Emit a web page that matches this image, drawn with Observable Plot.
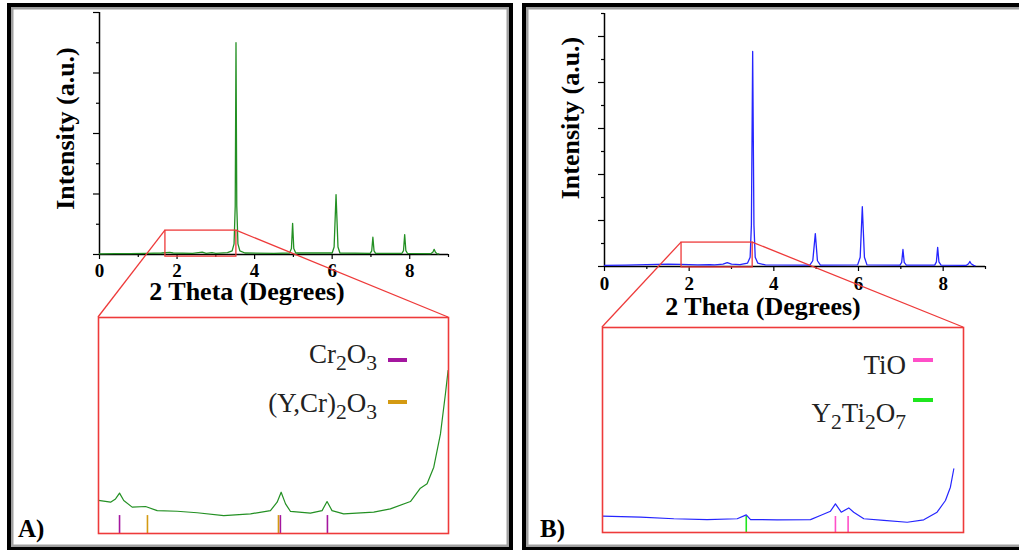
<!DOCTYPE html>
<html>
<head>
<meta charset="utf-8">
<script src="https://cdn.jsdelivr.net/npm/d3@7"></script>
<script src="https://cdn.jsdelivr.net/npm/@observablehq/plot@0.6"></script>
<style>
  html, body { margin: 0; padding: 0; background: #fff; }
  #root { position: relative; width: 1019px; height: 550px; overflow: hidden; background: #fff; }
  #root svg { position: absolute; }
</style>
</head>
<body>
<div id="root"></div>
<script>
// ---------------- DATA ----------------
// Panel A: full pattern (2θ, intensity a.u.)
const mainA_theta = [0.00,0.40,0.80,1.20,1.60,1.81,1.90,2.40,2.65,2.75,2.90,3.00,3.30,3.42,3.47,3.50,3.52,3.54,3.57,3.62,3.75,4.50,4.90,4.95,4.98,5.01,5.06,6.00,6.05,6.10,6.15,6.20,6.98,7.02,7.05,7.08,7.12,7.80,7.84,7.87,7.90,7.94,8.55,8.60,8.63,8.66,8.70,8.75];
const mainA_int   = [0.02,0.03,0.03,0.04,0.05,0.07,0.05,0.04,0.08,0.04,0.06,0.04,0.06,0.12,0.35,1.60,7.00,1.60,0.35,0.12,0.05,0.04,0.05,0.20,1.03,0.20,0.05,0.05,0.25,1.98,0.25,0.05,0.04,0.12,0.57,0.12,0.04,0.04,0.13,0.66,0.13,0.04,0.03,0.08,0.17,0.08,0.03,0.02];
// Panel B: full pattern
const mainB_theta = [0.00,0.50,1.00,1.50,1.80,2.20,2.49,2.60,2.80,2.90,3.00,3.20,3.38,3.44,3.47,3.50,3.53,3.56,3.62,3.80,4.85,4.92,4.98,5.03,5.10,5.98,6.04,6.09,6.14,6.20,6.98,7.02,7.05,7.08,7.13,7.80,7.84,7.87,7.90,7.95,8.55,8.60,8.63,8.66,8.72,8.75];
const mainB_int   = [0.05,0.06,0.08,0.10,0.09,0.07,0.08,0.07,0.10,0.17,0.10,0.08,0.15,0.40,1.80,9.35,1.80,0.40,0.15,0.07,0.06,0.25,1.43,0.25,0.06,0.07,0.40,2.60,0.40,0.07,0.06,0.18,0.74,0.18,0.06,0.06,0.20,0.83,0.20,0.06,0.05,0.12,0.22,0.12,0.05,0.04];

// Zoom windows (2θ range, intensity range) shown magnified below
const zoomA = {x1: 1.70, x2: 3.53, y1: -0.07, y2: 0.79};
const zoomB = {x1: 1.82, x2: 3.50, y1: -0.04, y2: 1.04};

// Insets: magnified patterns (2θ, relative intensity 0–100)
const insetA_theta = [1.700,1.763,1.789,1.810,1.832,1.876,1.946,2.007,2.111,2.216,2.355,2.495,2.599,2.634,2.655,2.678,2.704,2.808,2.869,2.895,2.921,2.982,3.139,3.226,3.331,3.383,3.418,3.453,3.488,3.514,3.528];
const insetA_int   = [15.3,14.5,16.0,18.7,15.3,12.2,12.5,10.6,10.3,9.6,8.3,9.1,10.6,14.5,19.1,13.7,10.2,9.4,10.6,14.8,10.6,9.1,9.9,11.4,14.8,21.0,23.0,30.7,46.1,64.7,75.5];
const insetB_theta = [1.820,1.997,2.152,2.307,2.447,2.489,2.509,2.633,2.788,2.834,2.881,2.904,2.931,2.966,2.989,3.036,3.129,3.238,3.315,3.377,3.416,3.439,3.455];
const insetB_int   = [8.0,7.5,6.7,6.3,6.7,8.6,6.3,6.2,6.3,8.3,10.4,14.0,9.9,12.0,9.9,6.7,5.9,5.0,6.2,9.9,15.6,22.1,31.1];

// Reference phase positions
const phasesA = ["Cr2O3", "(Y,Cr)2O3"];
const phaseColorsA = ["#a4169f", "#d49a12"];
const phaseTicksA_theta = [1.81, 2.651, 2.897, 1.956, 2.641];
const phaseTicksA_phase = ["Cr2O3", "Cr2O3", "Cr2O3", "(Y,Cr)2O3", "(Y,Cr)2O3"];
const phasesB = ["TiO", "Y2Ti2O7"];
const phaseColorsB = ["#ff4fc8", "#1fe61f"];
const phaseTicksB_theta = [2.904, 2.963, 2.489];
const phaseTicksB_phase = ["TiO", "TiO", "Y2Ti2O7"];

const xTicksMajor = [0, 2, 4, 6, 8];
const xTicksMinor = [1, 3, 5, 7, 9];
const xLabel = "2 Theta (Degrees)";
const yLabel = "Intensity (a.u.)";
const panelLabels = ["A)", "B)"];

// ---------------- BUILD ----------------
const zip = (xs, ys) => xs.map((x, i) => ({x, y: ys[i]}));
const FONT = "'Liberation Serif', 'Times New Roman', serif";
const RED = "#ee3a3a";

function mainPlot({data, color, yMax, zoom, width, height, ml, mr, mt, mb, tickPad, xLabDx, xLabDy, yLabDx, yLabDy}) {
  const even = d3.range(0, yMax + 1, 2), odd = d3.range(1, yMax + 1, 2);
  return Plot.plot({
    width, height, marginLeft: ml, marginRight: mr, marginTop: mt, marginBottom: mb,
    x: {domain: [0, 9]},
    y: {domain: [0, yMax]},
    style: {fontFamily: FONT, fontWeight: "bold", fontSize: "19px", color: "#000", background: "transparent", overflow: "visible"},
    marks: [
      Plot.axisY({ticks: even, tickSize: 6, tickFormat: () => "", label: null, strokeWidth: 1.2}),
      Plot.axisY({ticks: odd, tickSize: 3, tickFormat: () => "", label: null, strokeWidth: 1.2}),
      Plot.axisX({ticks: xTicksMajor, tickSize: 5, tickPadding: tickPad, label: null, strokeWidth: 1.2,
        fontSize: 19, fontWeight: "bold", fontFamily: FONT}),
      Plot.axisX({ticks: xTicksMinor, tickSize: 3, tickFormat: () => "", label: null, strokeWidth: 1.2}),
      Plot.ruleX([0], {strokeWidth: 1.5}),
      Plot.ruleY([0], {strokeWidth: 1.5}),
      Plot.line(data, {x: "x", y: "y", stroke: color, strokeWidth: 1.3}),
      Plot.rect([zoom], {x1: "x1", x2: "x2", y1: "y1", y2: "y2", fill: "none", stroke: RED, strokeWidth: 1.3}),
      Plot.text([xLabel], {text: d => d, frameAnchor: "bottom", textAnchor: "middle", lineAnchor: "middle",
        dx: xLabDx, dy: xLabDy, fontSize: 26, fontWeight: "bold", fontFamily: FONT}),
      Plot.text([yLabel], {text: d => d, frameAnchor: "left", textAnchor: "middle", lineAnchor: "middle",
        rotate: -90, dx: yLabDx, dy: yLabDy, fontSize: 26, fontWeight: "bold", fontFamily: FONT})
    ]
  });
}

function insetPlot({data, color, zoom, ticks, colors, phases, width, height, tickH}) {
  return Plot.plot({
    width, height, margin: 0,
    x: {domain: [zoom.x1, zoom.x2], axis: null},
    y: {domain: [0, 100], axis: null},
    color: {domain: phases, range: colors},
    style: {background: "transparent", overflow: "visible"},
    marks: [
      Plot.ruleX(ticks, {x: "x", y1: 0, y2: tickH, stroke: "phase", strokeWidth: 1.6}),
      Plot.line(data, {x: "x", y: "y", stroke: color, strokeWidth: 1.2}),
      Plot.frame({stroke: RED, strokeWidth: 1.6})
    ]
  });
}

const root = document.getElementById("root");

// background frames
const bg = d3.select(root).append("svg").attr("width", 1019).attr("height", 550).style("left", 0).style("top", 0);
[[9, 5, 502, 544], [524, 5, 510, 544]].forEach(([x, y, w, h]) => {
  bg.append("rect").attr("x", x + 3).attr("y", y + 3).attr("width", w - 6).attr("height", h - 6)
    .attr("fill", "none").attr("stroke", "#a0a0a0").attr("stroke-width", 3);
  bg.append("rect").attr("x", x).attr("y", y).attr("width", w).attr("height", h)
    .attr("fill", "none").attr("stroke", "#000").attr("stroke-width", 4);
});

const layout = {
  A: {main: {left: 0, top: 0}, inset: {left: 98, top: 317, width: 350, height: 216}},
  B: {main: {left: 505, top: 0}, inset: {left: 602, top: 327, width: 361, height: 205}}
};

const mA = mainPlot({data: zip(mainA_theta, mainA_int), color: "#239023", yMax: 8, zoom: zoomA,
  width: 505, height: 310, ml: 99, mr: 57, mt: 12, mb: 56, tickPad: 4, xLabDx: -27, xLabDy: 37, yLabDx: -34, yLabDy: -5});
const mB = mainPlot({data: zip(mainB_theta, mainB_int), color: "#2525ff", yMax: 11, zoom: zoomB,
  width: 505, height: 320, ml: 99, mr: 25, mt: 13, mb: 54, tickPad: 5, xLabDx: -32, xLabDy: 40, yLabDx: -34, yLabDy: -22});

const iA = insetPlot({data: zip(insetA_theta, insetA_int), color: "#239023", zoom: zoomA,
  ticks: phaseTicksA_theta.map((x, i) => ({x, phase: phaseTicksA_phase[i]})), colors: phaseColorsA, phases: phasesA,
  width: 350, height: 216, tickH: 8.3});
const iB = insetPlot({data: zip(insetB_theta, insetB_int), color: "#2525ff", zoom: zoomB,
  ticks: phaseTicksB_theta.map((x, i) => ({x, phase: phaseTicksB_phase[i]})), colors: phaseColorsB, phases: phasesB,
  width: 361, height: 205, tickH: 7.8});

[[mA, layout.A.main], [mB, layout.B.main], [iA, layout.A.inset], [iB, layout.B.inset]].forEach(([el, p]) => {
  el.style.position = "absolute";
  el.style.left = p.left + "px";
  el.style.top = p.top + "px";
  root.appendChild(el);
});

// overlay: connectors, legends, panel labels
const ov = d3.select(root).append("svg").attr("width", 1019).attr("height", 550).style("left", 0).style("top", 0).style("pointer-events", "none");

function connectors(plot, pos, zoom, inset) {
  const sx = plot.scale("x"), sy = plot.scale("y");
  const yTop = pos.top + sy.apply(zoom.y2);
  const a = [pos.left + sx.apply(zoom.x1), yTop];
  const b = [pos.left + sx.apply(zoom.x2), yTop];
  ov.append("line").attr("x1", a[0]).attr("y1", a[1]).attr("x2", inset.left).attr("y2", inset.top)
    .attr("stroke", RED).attr("stroke-width", 1.3);
  ov.append("line").attr("x1", b[0]).attr("y1", b[1]).attr("x2", inset.left + inset.width).attr("y2", inset.top)
    .attr("stroke", RED).attr("stroke-width", 1.3);
}
connectors(mA, layout.A.main, zoomA, layout.A.inset);
connectors(mB, layout.B.main, zoomB, layout.B.inset);

function formula(textSel, s) {
  const parts = s.match(/[0-9]+|[^0-9]+/g);
  let shifted = false;
  parts.forEach(p => {
    const isSub = /^[0-9]+$/.test(p);
    const t = textSel.append("tspan").text(p);
    if (isSub && !shifted) { t.attr("dy", "0.32em").attr("font-size", "0.8em"); shifted = true; }
    else if (isSub) { t.attr("font-size", "0.8em"); }
    else if (shifted) { t.attr("dy", "-0.256em"); shifted = false; }
  });
}

function legend(phases, colors, textRight, baselines, swX, swW, swYs) {
  phases.forEach((ph, i) => {
    const t = ov.append("text").attr("x", textRight).attr("y", baselines[i]).attr("text-anchor", "end")
      .attr("font-family", FONT).attr("font-size", 27).attr("fill", "#222");
    formula(t, ph);
    ov.append("rect").attr("x", swX).attr("y", swYs[i] - 2).attr("width", swW).attr("height", 4).attr("fill", colors[i]);
  });
}
legend(phasesA, phaseColorsA, 377, [363, 412], 388, 19, [360, 402]);
legend(phasesB, phaseColorsB, 906, [374, 422], 913, 20, [360, 400]);

[[18, 537], [540, 537]].forEach(([x, y], i) => {
  ov.append("text").attr("x", x).attr("y", y).attr("font-family", FONT).attr("font-weight", "bold")
    .attr("font-size", 25).attr("fill", "#000").text(panelLabels[i]);
});
</script>
</body>
</html>
